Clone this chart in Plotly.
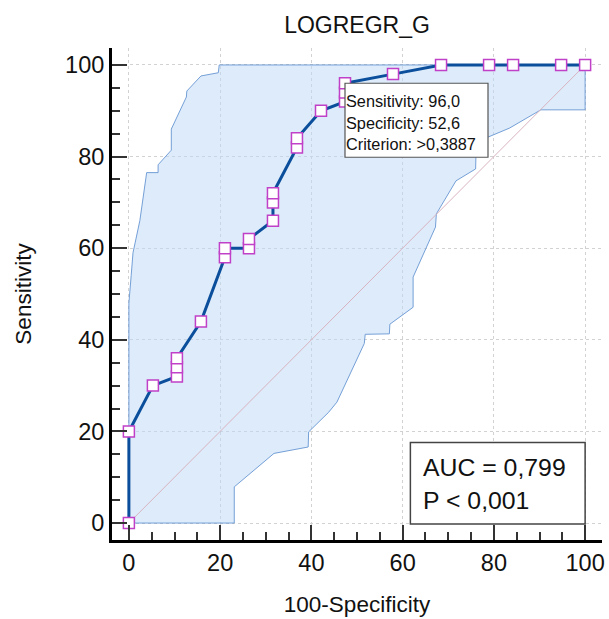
import plotly.graph_objects as go

# ROC curve points (100 - specificity, sensitivity), in %
fpr = [0, 0, 5.26, 10.53, 10.53, 10.53, 15.79, 21.05, 21.05, 26.32, 26.32,
       31.58, 31.58, 31.58, 36.84, 36.84, 42.11, 47.37, 47.37, 47.37,
       57.89, 68.42, 78.95, 84.21, 94.74, 100]
tpr = [0, 20, 30, 32, 34, 36, 44, 58, 60, 60, 62, 66, 70, 72, 82, 84, 90,
       92, 94, 96, 98, 100, 100, 100, 100, 100]

# 95% confidence band: upper and lower limits
upper_x = [0, 0, 0.5, 0.9, 2.4, 3.9, 6.4, 6.4, 9.3, 9.3, 12.6, 12.7, 15.8,
           19.6, 19.8, 100]
upper_y = [0, 48, 54, 59, 66, 76.5, 76.5, 78.2, 81.4, 86, 93, 94.3, 97.6,
           98.3, 100, 100]
lower_x = [100, 100, 90.3, 83.4, 78.6, 76.1, 76, 71.7, 67.4, 67.2, 62.3,
           62.3, 57.2, 57.1, 51.8, 51.6, 45.6, 43.8, 39.4, 39.3, 31.8, 23.1,
           23.1, 0]
lower_y = [100, 90.2, 90.2, 86.2, 84.2, 81.3, 77.3, 74.7, 67.5, 64.6, 53.7,
           47.1, 43.4, 41.3, 41.2, 39.2, 26.4, 24.2, 19.9, 16.6, 15.2, 7.9,
           0, 0]

ticks = [0, 20, 40, 60, 80, 100]
auc_text = ["AUC = 0,799", "P < 0,001"]
criterion = ">0,3887"
cut_index = 19  # optimal cut-off point on the curve

FONT = "Arial, Liberation Sans, sans-serif"

fig = go.Figure()

band_x = upper_x + lower_x
band_y = upper_y + lower_y
fig.add_trace(go.Scatter(
    x=band_x, y=band_y, mode="lines", fill="toself",
    fillcolor="rgba(188,215,246,0.5)",
    line=dict(color="rgba(95,145,208,0.85)", width=1),
    hoverinfo="skip", showlegend=False))

fig.add_trace(go.Scatter(
    x=[0, 100], y=[0, 100], mode="lines",
    line=dict(color="#d8b3c0", width=1),
    hoverinfo="skip", showlegend=False))

fig.add_trace(go.Scatter(
    x=fpr, y=tpr, mode="lines+markers",
    line=dict(color="#0b4f9c", width=3),
    marker=dict(symbol="square", size=11, color="white",
                line=dict(color="#c040c8", width=1.5)),
    showlegend=False))

# cut-off info box anchored at the chosen criterion point
cx, cy = fpr[cut_index], tpr[cut_index]
fig.add_shape(type="rect", xref="x", yref="y",
              xsizemode="pixel", ysizemode="pixel",
              xanchor=cx, yanchor=cy, x0=0, x1=143, y0=0, y1=-74,
              line=dict(color="#555555", width=1.2), fillcolor="white",
              layer="above")
info_lines = [
    "Sensitivity: " + f"{cy:.1f}".replace(".", ","),
    "Specificity: " + f"{100 - cx:.1f}".replace(".", ","),
    "Criterion: " + criterion,
]
for text, dy in zip(info_lines, [-18, -39.5, -60.5]):
    fig.add_annotation(x=cx, y=cy, xref="x", yref="y", text=text,
                       showarrow=False, xanchor="left", yanchor="middle",
                       yshift=dy, xshift=0, borderpad=0,
                       font=dict(family=FONT, size=16.3, color="#111111"))

# AUC box
fig.add_shape(type="rect", xref="x", yref="y", x0=61.7, x1=100, y0=-0.2,
              y1=17.6, line=dict(color="#444444", width=1.5),
              fillcolor="white", layer="above")
for text, yy in zip(auc_text, [12.2, 5.0]):
    fig.add_annotation(x=64.2, y=yy, xref="x", yref="y", text=text,
                       showarrow=False, xanchor="left", yanchor="middle",
                       borderpad=0,
                       font=dict(family=FONT, size=24.8, color="#111111"))

axis_common = dict(
    range=[-3.7, 103.7], tickvals=ticks, ticktext=[str(t) for t in ticks],
    showgrid=True, gridcolor="#d2d2d2", griddash="dot", gridwidth=1,
    zeroline=False, showline=True, linecolor="black", linewidth=3,
    ticks="inside", ticklen=15, tickwidth=2, tickcolor="#333333",
    minor=dict(dtick=5, tick0=0, ticks="inside", ticklen=8, tickwidth=1.5,
               tickcolor="#333333", showgrid=False),
    tickfont=dict(family=FONT, size=23.5, color="#111111"),
)

fig.update_xaxes(**axis_common,
                 title=dict(text="100-Specificity", standoff=22,
                            font=dict(family=FONT, size=22.5, color="#111111")))
fig.update_yaxes(**axis_common,
                 title=dict(text="Sensitivity", standoff=28,
                            font=dict(family=FONT, size=22.5, color="#111111")))

fig.update_layout(
    width=609, height=619,
    margin=dict(l=112, r=4, t=48, b=79),
    paper_bgcolor="white", plot_bgcolor="white",
    title=dict(text="LOGREGR_G", x=0.5, xref="paper", xanchor="center",
               y=1 - 25 / 619, yref="container", yanchor="middle",
               font=dict(family=FONT, size=23, color="#111111")),
    showlegend=False,
)

fig.write_html("out.html")
